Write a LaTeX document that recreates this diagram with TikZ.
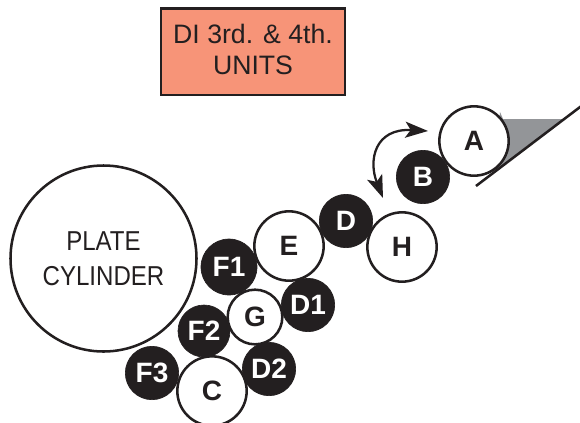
\documentclass[tikz,border=0pt]{standalone}
\usepackage{fontspec}
\setmainfont{Liberation Sans}
\usetikzlibrary{arrows.meta}
\definecolor{ink}{RGB}{35,31,32}
\definecolor{salmon}{RGB}{247,148,120}
\definecolor{wedge}{RGB}{147,149,152}
\tikzset{
  white roll/.style={circle,draw=ink,line width=1.9pt,fill=white,inner sep=0pt,text=ink,font=\fontsize{21}{22}\selectfont\bfseries},
  black roll/.style={circle,draw=ink,line width=0.5pt,fill=ink,inner sep=0pt,text=white,font=\fontsize{21}{22}\selectfont\bfseries},
  twohead/.style={{Stealth[length=17pt,width=12pt,inset=4pt]}-{Stealth[length=17pt,width=12pt,inset=4pt]}},
}
\begin{document}
\begin{tikzpicture}[x=0.75pt,y=-0.75pt]
\useasboundingbox (0,0) rectangle (580,422);
\clip (0,0) rectangle (580,422);
\node[draw=ink,line width=2pt,fill=salmon,minimum width=138pt,minimum height=65pt,inner sep=0pt,align=center,text=ink,font=\fontsize{20}{24}\selectfont] (title) at (253,51.5) {DI 3rd. \& 4th.\\[-0.5pt]UNITS\\[-21pt]\mbox{}};
\coordinate (w1) at (500,112);
\coordinate (w2) at (563,119);
\coordinate (w3) at (496,170);
\fill[wedge] (w1) -- (503,119) -- (w2) -- (w3) -- cycle;
\coordinate (bladeA) at (476,186);
\coordinate (bladeB) at (582,105.5);
\draw[ink,line width=1.9pt] (bladeA) -- (bladeB);
\node[white roll,minimum size=139.5pt,font=\fontsize{20.5}{26}\selectfont,align=center] (plate) at (103.5,258.5) {\scalebox{.88}[1]{PLATE}\\\scalebox{.88}[1]{CYLINDER}};
\node[white roll,minimum size=52pt] (A) at (474,141) {A};
\node[white roll,minimum size=52pt] (H) at (402,247) {H};
\node[white roll,minimum size=52pt] (E) at (289,246) {E};
\node[black roll,minimum size=40pt] (B) at (423,177) {B};
\node[black roll,minimum size=40pt] (D) at (346,221) {D};
\node[black roll,minimum size=42pt] (F1) at (229,267) {F1};
\node[white roll,minimum size=41pt] (G) at (255,317) {G};
\node[black roll,minimum size=40pt] (D1) at (308,305) {D1};
\node[black roll,minimum size=39pt] (F2) at (204,331) {F2};
\node[white roll,minimum size=52pt] (C) at (212,391) {C};
\node[black roll,minimum size=40pt] (D2) at (269,369) {D2};
\node[black roll,minimum size=40pt] (F3) at (152,373) {F3};
\coordinate (arrowA) at (428,131);
\coordinate (arrowB) at (383,198);
\draw[ink,line width=1.7pt,twohead] (arrowB) .. controls (368,160) and (375,128) .. (arrowA);
\end{tikzpicture}
\end{document}
